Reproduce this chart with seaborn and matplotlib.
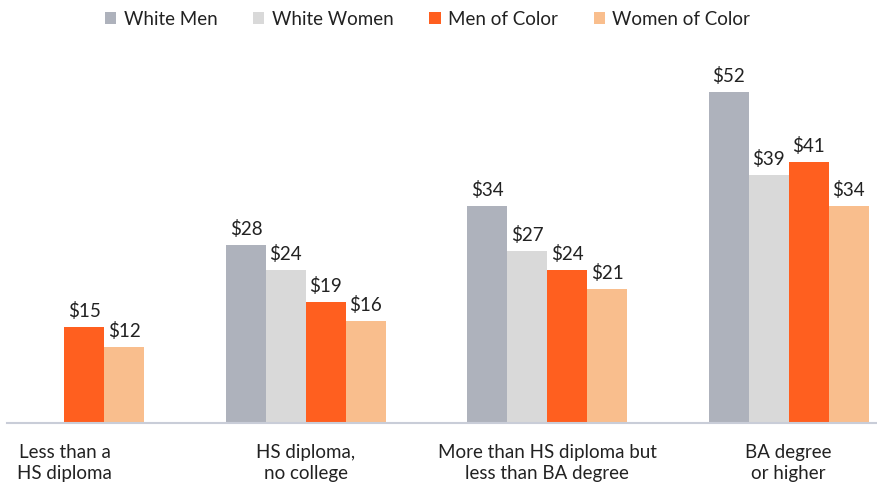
import numpy as np
import pandas as pd
import matplotlib
matplotlib.use("Agg")
import matplotlib.pyplot as plt
from matplotlib.patches import Patch
import seaborn as sns

categories = ["Less than a\nHS diploma", "HS diploma,\nno college",
              "More than HS diploma but\nless than BA degree", "BA degree\nor higher"]
groups = ["White Men", "White Women", "Men of Color", "Women of Color"]
white_men = [np.nan, 28, 34, 52]
white_women = [np.nan, 24, 27, 39]
men_of_color = [15, 19, 24, 41]
women_of_color = [12, 16, 21, 34]
colors = ["#AEB2BC", "#D9D9D9", "#FF5F1F", "#F9BE8D"]

rows = []
for g, vals in zip(groups, [white_men, white_women, men_of_color, women_of_color]):
    for c, v in zip(categories, vals):
        rows.append({"category": c, "group": g, "wage": v})
df = pd.DataFrame(rows)

sns.set_theme(style="white")
plt.rcParams["font.family"] = ["Lato", "DejaVu Sans"]

fig = plt.figure(figsize=(8.78, 4.87), dpi=100)
ax = fig.add_axes([7 / 878, 64 / 487, 1 - 7 / 878, 423 / 487])

sns.barplot(data=df, x="category", y="wage", hue="group", order=categories,
            hue_order=groups, palette=colors, width=0.662, saturation=1,
            errorbar=None, ax=ax, legend=False, linewidth=0)

for cont in ax.containers:
    labels = ["" if np.isnan(v) else f"${v:.0f}" for v in cont.datavalues]
    ax.bar_label(cont, labels=labels, padding=5, fontsize=13.5, color="#222222")

ax.set_xlim(-0.238, 3.37)
ax.set_ylim(0, 66.4)
ax.set_xlabel("")
ax.set_ylabel("")
ax.set_yticks([])
ax.tick_params(axis="x", length=0, pad=15, labelsize=13.5, labelcolor="#222222")
for lbl in ax.get_xticklabels():
    lbl.set_linespacing(1.3)
for side in ["top", "left", "right"]:
    ax.spines[side].set_visible(False)
ax.spines["bottom"].set_color("#C9CDD8")
ax.spines["bottom"].set_linewidth(1.5)

handles = [Patch(facecolor=c, edgecolor="none") for c in colors]
fig.legend(handles, groups, loc="upper center", bbox_to_anchor=(0.487, 1.012),
           ncol=4, frameon=False, fontsize=13.5, handlelength=0.6, handleheight=0.6,
           handletextpad=0.4, columnspacing=1.9, labelcolor="#222222")

fig.savefig("out.png", dpi=100)
